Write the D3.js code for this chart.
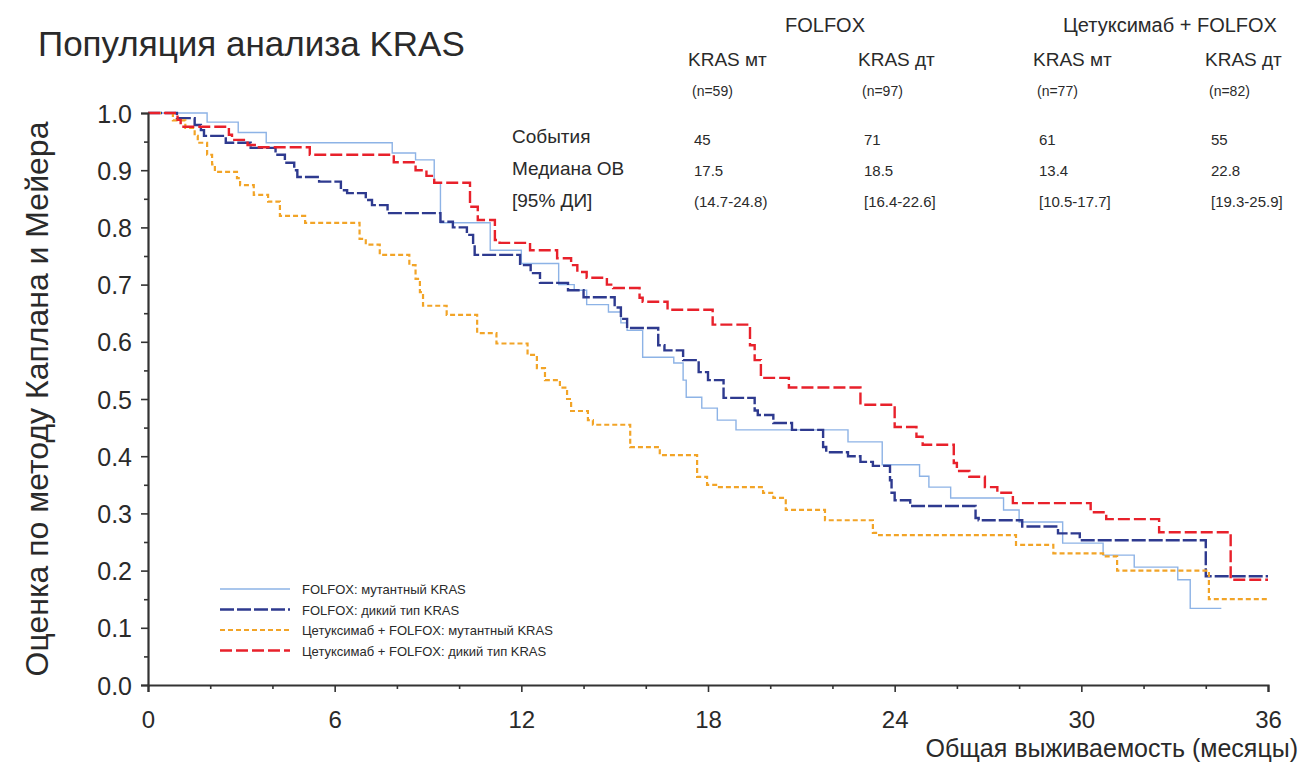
<!DOCTYPE html>
<html>
<head>
<meta charset="utf-8">
<script src="https://cdn.jsdelivr.net/npm/d3@7"></script>
<style>
  body { margin: 0; background: #fff; }
  text { font-family: "Liberation Sans", Arial, sans-serif; fill: #2a2a2a; }
</style>
</head>
<body>
<div id="chart"></div>
<script>
// frame
const FRAME_WIDTH = 1307;
const FRAME_HEIGHT = 764;
const MARGINS = {left: 148, right: 39, top: 113, bottom: 79};
const VIS_WIDTH = FRAME_WIDTH - MARGINS.left - MARGINS.right;
const VIS_HEIGHT = FRAME_HEIGHT - MARGINS.top - MARGINS.bottom;

// axis ticks
const X_TICKS = [0, 6, 12, 18, 24, 30, 36];
const Y_TICKS = [0.0, 0.1, 0.2, 0.3, 0.4, 0.5, 0.6, 0.7, 0.8, 0.9, 1.0];

// survival steps [month, estimate]
const folfoxMt = [[0,1],[1.9,0.984],[2.9,0.966],[3.8,0.948],[7.85,0.93],[8.6,0.918],[9.2,0.877],[9.4,0.808],
  [11.0,0.76],[12.0,0.737],[13.2,0.70],[13.7,0.69],[14.1,0.665],[14.8,0.652],[15.2,0.633],[15.4,0.62],
  [15.9,0.573],[16.9,0.563],[17.2,0.533],[17.3,0.503],[17.8,0.484],[18.3,0.463],[18.9,0.446],[22.5,0.425],
  [23.6,0.385],[24.8,0.365],[25.1,0.346],[25.8,0.327],[27.5,0.306],[28.0,0.285],[29.4,0.248],[30.7,0.227],
  [31.7,0.206],[33.1,0.184],[33.5,0.134],[34.5,0.134]];

const folfoxWt = [[0,1],[0.93,0.991],[1.5,0.979],[1.7,0.97],[1.8,0.96],[2.5,0.948],[3.3,0.939],[4.1,0.927],
  [4.4,0.913],[4.7,0.90],[4.8,0.888],[5.5,0.88],[6.2,0.865],[6.4,0.86],[7.0,0.848],[7.2,0.839],[7.7,0.825],
  [9.4,0.81],[9.8,0.80],[10.25,0.787],[10.45,0.77],[10.5,0.752],[11.96,0.734],[12.3,0.72],[12.6,0.703],
  [13.5,0.69],[14.0,0.678],[15.0,0.66],[15.2,0.64],[15.4,0.624],[16.4,0.594],[16.6,0.585],[17.2,0.568],
  [17.7,0.547],[18.0,0.533],[18.5,0.502],[19.5,0.48],[19.6,0.472],[20.1,0.458],[20.7,0.446],[21.7,0.416],
  [21.8,0.407],[22.5,0.40],[22.9,0.39],[23.3,0.383],[23.85,0.358],[23.9,0.336],[24.0,0.323],[24.5,0.313],
  [26.6,0.292],[26.7,0.288],[28.1,0.277],[29.25,0.265],[29.95,0.253],[34.0,0.19],[36,0.19]];

const cetuxMt = [[0,1],[0.8,0.987],[1.2,0.974],[1.5,0.96],[1.6,0.948],[1.9,0.927],[2.06,0.91],[2.15,0.897],
  [2.86,0.886],[2.96,0.874],[3.4,0.857],[3.86,0.845],[4.24,0.82],[5.05,0.808],[6.8,0.78],[7.0,0.77],
  [7.45,0.752],[8.4,0.734],[8.6,0.71],[8.74,0.687],[8.84,0.663],[9.6,0.647],[10.58,0.615],[11.2,0.597],
  [12.2,0.577],[12.5,0.554],[12.76,0.533],[13.24,0.52],[13.47,0.50],[13.6,0.479],[14.14,0.463],[14.3,0.455],
  [15.5,0.416],[16.45,0.402],[17.65,0.364],[17.97,0.35],[18.3,0.346],[19.77,0.336],[20.1,0.327],[20.5,0.306],
  [21.76,0.288],[23.3,0.266],[23.5,0.262],[27.9,0.245],[29.1,0.23],[30.7,0.225],[31.15,0.20],[34.1,0.15],[36,0.15]];

const cetuxWt = [[0,1],[0.95,0.988],[1.05,0.976],[2.6,0.962],[2.7,0.953],[3.2,0.944],[3.5,0.94],[5.2,0.927],
  [7.9,0.914],[8.6,0.90],[8.95,0.89],[9.2,0.878],[10.35,0.836],[10.6,0.813],[11.15,0.778],[11.3,0.773],
  [12.28,0.76],[13.15,0.746],[13.6,0.734],[13.8,0.722],[14.1,0.712],[14.75,0.70],[14.95,0.694],[15.8,0.677],
  [15.9,0.67],[16.7,0.656],[18.15,0.63],[19.35,0.594],[19.5,0.568],[19.7,0.537],[20.6,0.52],[22.9,0.49],
  [24.0,0.451],[24.7,0.434],[24.9,0.42],[25.9,0.388],[26.0,0.374],[26.4,0.364],[26.9,0.346],[27.3,0.336],
  [27.8,0.318],[30.3,0.302],[30.8,0.29],[32.5,0.267],[34.8,0.184],[36,0.184]];

// legend / table texts
const SERIES_NAMES = ["FOLFOX: мутантный KRAS", "FOLFOX: дикий тип KRAS",
  "Цетуксимаб + FOLFOX: мутантный KRAS", "Цетуксимаб + FOLFOX: дикий тип KRAS"];
const ARM_NAMES = ["FOLFOX", "Цетуксимаб + FOLFOX"];
const COL_NAMES = ["KRAS мт", "KRAS дт", "KRAS мт", "KRAS дт"];
const COL_N = ["(n=59)", "(n=97)", "(n=77)", "(n=82)"];
const ROW_NAMES = ["События", "Медиана ОВ", "[95% ДИ]"];
const EVENTS = ["45", "71", "61", "55"];
const MEDIANS = ["17.5", "18.5", "13.4", "22.8"];
const CIS = ["(14.7-24.8)", "[16.4-22.6]", "[10.5-17.7]", "[19.3-25.9]"];

const STYLES = [
  {color: "#8db3e6", width: 1.4, dash: null},
  {color: "#2e3a8f", width: 2.4, dash: "14,3"},
  {color: "#f2a427", width: 2.2, dash: "5,3"},
  {color: "#e8212b", width: 2.4, dash: "12,4"}
];

const FRAME = d3.select("#chart")
  .append("svg")
    .attr("width", FRAME_WIDTH)
    .attr("height", FRAME_HEIGHT);

const x = d3.scaleLinear().domain([0, 36]).range([MARGINS.left, MARGINS.left + VIS_WIDTH]);
const y = d3.scaleLinear().domain([0, 1]).range([MARGINS.top + VIS_HEIGHT, MARGINS.top]);

// curves
const line = d3.line()
  .x((d) => x(d[0]))
  .y((d) => y(d[1]))
  .curve(d3.curveStepAfter);

[folfoxMt, folfoxWt, cetuxMt, cetuxWt].forEach((data, i) => {
  FRAME.append("path")
    .attr("d", line(data))
    .attr("fill", "none")
    .attr("stroke", STYLES[i].color)
    .attr("stroke-width", STYLES[i].width)
    .attr("stroke-dasharray", STYLES[i].dash);
});

// x axis
const xAxis = FRAME.append("g")
  .attr("transform", "translate(0," + y(0) + ")")
  .call(d3.axisBottom(x).tickValues(X_TICKS).tickSize(7).tickPadding(19).tickFormat(d3.format("d")));
FRAME.append("g")
  .attr("transform", "translate(0," + y(0) + ")")
  .call(d3.axisBottom(x).tickValues(d3.range(2, 36, 2).filter((d) => d % 6 !== 0)).tickSize(4).tickFormat(""))
  .select(".domain").remove();

// y axis
const yAxis = FRAME.append("g")
  .attr("transform", "translate(" + x(0) + ",0)")
  .call(d3.axisLeft(y).tickValues(Y_TICKS).tickSize(7).tickPadding(9).tickFormat(d3.format(".1f")));
FRAME.append("g")
  .attr("transform", "translate(" + x(0) + ",0)")
  .call(d3.axisLeft(y).tickValues(d3.range(0.05, 1, 0.1)).tickSize(4).tickFormat(""))
  .select(".domain").remove();

FRAME.selectAll(".domain").attr("stroke", "#333").attr("stroke-width", 2.2);
FRAME.selectAll(".tick line").attr("stroke", "#333").attr("stroke-width", 1.6);
xAxis.selectAll("text").style("font-size", "24px").attr("fill", "#2a2a2a");
yAxis.selectAll("text").style("font-size", "25px").attr("fill", "#2a2a2a").attr("dy", "0.36em");

// title and axis labels
FRAME.append("text")
  .attr("x", 38).attr("y", 56)
  .style("font-size", "35px")
  .text("Популяция анализа KRAS");

FRAME.append("text")
  .attr("transform", "translate(48," + (y(0.5)) + ") rotate(-90)")
  .attr("text-anchor", "middle")
  .style("font-size", "32px")
  .text("Оценка по методу Каплана и Мейера");

FRAME.append("text")
  .attr("x", 1298).attr("y", 757)
  .attr("text-anchor", "end")
  .style("font-size", "25px")
  .text("Общая выживаемость (месяцы)");

// table
const COL_X = [688, 858, 1033, 1205];
FRAME.append("text").attr("x", 825).attr("y", 32).attr("text-anchor", "middle")
  .style("font-size", "20px").text(ARM_NAMES[0]);
FRAME.append("text").attr("x", 1170).attr("y", 32).attr("text-anchor", "middle")
  .style("font-size", "20px").text(ARM_NAMES[1]);

COL_X.forEach((cx, i) => {
  FRAME.append("text").attr("x", cx).attr("y", 66).style("font-size", "19px").text(COL_NAMES[i]);
  FRAME.append("text").attr("x", cx + 4).attr("y", 96).style("font-size", "14px").attr("fill", "#555").text(COL_N[i]);
  FRAME.append("text").attr("x", cx + 6).attr("y", 145).style("font-size", "15px").text(EVENTS[i]);
  FRAME.append("text").attr("x", cx + 6).attr("y", 176).style("font-size", "15px").text(MEDIANS[i]);
  FRAME.append("text").attr("x", cx + 6).attr("y", 207).style("font-size", "15px").text(CIS[i]);
});

ROW_NAMES.forEach((r, i) => {
  FRAME.append("text").attr("x", 512).attr("y", 143 + i * 32).style("font-size", "19px").attr("fill", "#444").text(r);
});

// legend
const LEGEND = FRAME.append("g");
SERIES_NAMES.forEach((name, i) => {
  const ly = 589 + i * 20.5;
  LEGEND.append("line")
    .attr("x1", 220).attr("x2", 290).attr("y1", ly).attr("y2", ly)
    .attr("stroke", STYLES[i].color)
    .attr("stroke-width", STYLES[i].width)
    .attr("stroke-dasharray", STYLES[i].dash);
  LEGEND.append("text")
    .attr("x", 302).attr("y", ly + 5)
    .style("font-size", "13px")
    .text(name);
});
</script>
</body>
</html>
